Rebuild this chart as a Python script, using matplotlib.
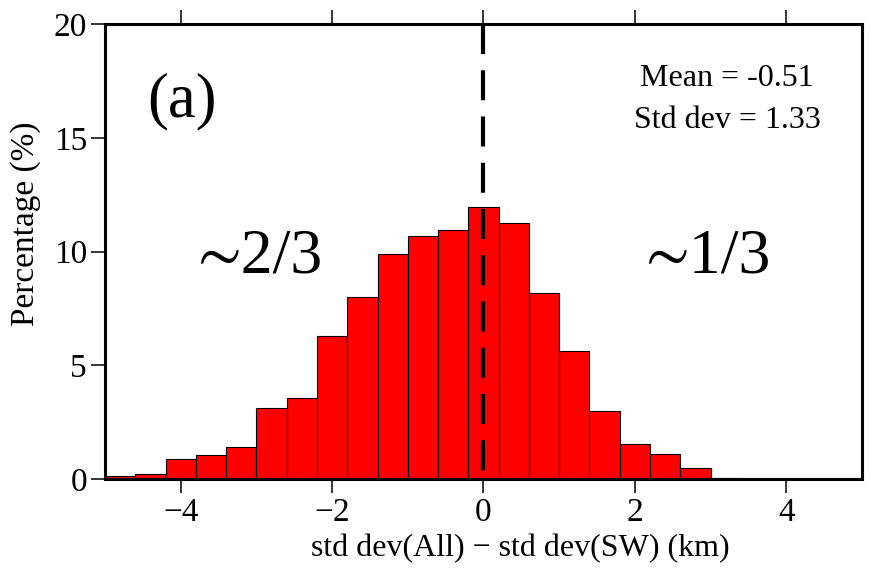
import numpy as np
import matplotlib
matplotlib.use("Agg")
import matplotlib.pyplot as plt

plt.rcParams['font.family'] = ['Liberation Serif', 'STIXGeneral', 'DejaVu Serif']

# Histogram data (bin width 0.4, starting at -5)
bin_left = np.round(np.arange(-5.0, 3.01, 0.4), 2)
percent = [0.15, 0.20, 0.88, 1.04, 1.42, 3.10, 3.55, 6.29, 8.00, 9.89,
           10.67, 10.93, 11.94, 11.27, 8.16, 5.61, 2.99, 1.54, 1.10, 0.48, 0.06]
bin_width = 0.4

xticks = [-4, -2, 0, 2, 4]
yticks = [0, 5, 10, 15, 20]

fig = plt.figure(figsize=(8.79, 5.69), dpi=100)
ax = fig.add_axes([105/879, 1 - 479/569, (862-105)/879, (479-24)/569])

ax.bar(bin_left, percent, width=bin_width, align='edge', color='#ff0000',
       edgecolor='black', linewidth=0.8, zorder=2)

ax.plot([0, 0], [20, 0], color='black', linewidth=3, dashes=(7.2, 3.9), zorder=3)

ax.set_xlim(-5, 5)
ax.set_ylim(0, 20)
ax.set_xticks(xticks)
ax.set_xticklabels(['\u2212' + str(abs(t)) if t < 0 else str(t) for t in xticks])
ax.set_yticks(yticks)

for s in ax.spines.values():
    s.set_linewidth(2.2)

ax.tick_params(axis='both', direction='out', length=10, width=1.1, labelsize=24, pad=3)
ax.tick_params(axis='x', top=True, labeltop=False)

ax.set_xlabel('std dev(All) \u2212 std dev(SW) (km)', fontsize=23, labelpad=4)
ax.xaxis.set_label_coords(0.548, -0.12)
ax.set_ylabel('Percentage (%)', fontsize=24)
ax.yaxis.set_label_coords(-0.085, 0.5615)

ax.text(-3.98, 16.6, '(a)', fontsize=45, ha='center', va='center')
ax.text(-2.95, 9.75, '\u223c2/3', fontsize=46, ha='center', va='center')
ax.text(2.98, 9.75, '\u223c1/3', fontsize=46, ha='center', va='center')
ax.text(3.22, 16.68, 'Mean = -0.51\nStd dev = 1.33', fontsize=23, ha='center',
        va='center', linespacing=1.6)

fig.savefig('out.png', dpi=100)
